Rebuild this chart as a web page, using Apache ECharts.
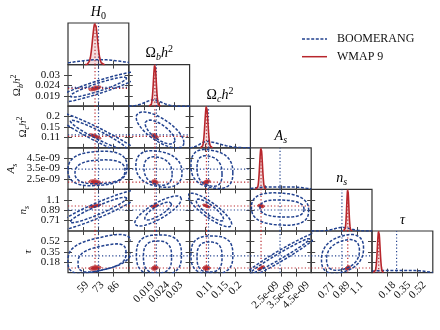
<!DOCTYPE html>
<html>
<head>
<meta charset="utf-8">
<script src="https://cdn.jsdelivr.net/npm/echarts@6/dist/echarts.min.js"></script>
<style>
  html, body { margin: 0; padding: 0; background: #fff; }
  #main { width: 440px; height: 330px; }
</style>
</head>
<body>
<div id="main"></div>
<script>
// parameters: H0, Omega_b h^2, Omega_c h^2, A_s (in units of 1e-9), n_s, tau
var axisMin = [46, 0.0134, 0.064, 1.5, 0.52, 0.01];
var axisMax = [100, 0.035, 0.244, 5.5, 1.26, 0.69];
var tickVals = [[59.5, 73, 86.5], [0.0188, 0.0242, 0.0296], [0.109, 0.154, 0.199],
                [2.5, 3.5, 4.5], [0.705, 0.89, 1.075], [0.18, 0.35, 0.52]];
var tickLabels = [['59', '73', '86'], ['0.019', '0.024', '0.03'], ['0.11', '0.15', '0.2'],
                  ['2.5e-09', '3.5e-09', '4.5e-09'], ['0.71', '0.89', '1.1'], ['0.18', '0.35', '0.52']];

// dotted reference lines
var boomMean = [73.1, 0.0232, 0.12, 3.45, 0.894, 0.285];
var wmapMean = [70.0, 0.02264, 0.1138, 2.2, 0.965, 0.085];
var wmapSig = [2.2, 0.0005, 0.0045, 0.09, 0.013, 0.015];

// BOOMERANG 1D marginals: peak position, left/right width, flatness, peak height
var b1dMean = [74, 0.0221, 0.113, 3.4, 0.9, 0.3];
var b1dSigL = [20, 0.003, 0.018, 1.6, 0.1, 0.3];
var b1dSigR = [20, 0.003, 0.04, 1.6, 0.1, 0.3];
var b1dPow = [2, 2, 2, 4, 2, 6];
var b1dPeak = [0.12, 0.15, 0.15, 0.06, 0.085, 0.05];

// 2D panels [row, col]
var panels = [[1, 0], [2, 0], [2, 1], [3, 0], [3, 1], [3, 2], [4, 0], [4, 1], [4, 2], [4, 3],
              [5, 0], [5, 1], [5, 2], [5, 3], [5, 4]];
// BOOMERANG contours: [cx, cy, half width, half height, tilt, squareness]
var boomOuter = [
  [73.1, 0.0233, 40.7, 0.0083, 0.91, 2],
  [73.1, 0.119, 40.7, 0.103, -0.95, 2],
  [0.0245, 0.141, 0.0085, 0.078, -0.7, 2],
  [72.2, 3.51, 26.2, 1.64, 0.1, 2.6],
  [0.0241, 3.46, 0.0082, 1.73, -0.2, 2.4],
  [0.130, 3.46, 0.062, 1.83, -0.2, 2.6],
  [73.1, 0.894, 40.8, 0.372, 0.924, 2],
  [0.0238, 0.876, 0.0083, 0.267, 0.8, 2],
  [0.124, 0.894, 0.065, 0.30, -0.85, 2],
  [3.45, 0.911, 1.88, 0.285, -0.1, 2.6],
  [74.4, 0.314, 28.4, 0.294, 0.4, 3],
  [0.0241, 0.298, 0.008, 0.327, 0, 2.8],
  [0.130, 0.298, 0.062, 0.31, 0, 2.8],
  [3.45, 0.281, 2.63, 0.394, 0.968, 2],
  [0.901, 0.314, 0.256, 0.31, 0.3, 2.4]
];
var boomInner = [
  [73.1, 0.0233, 25.2, 0.0052, 0.91, 2],
  [73.1, 0.119, 25.2, 0.064, -0.95, 2],
  [0.0245, 0.132, 0.0053, 0.052, -0.7, 2],
  [74.4, 3.19, 22.2, 1.14, 0.1, 2.6],
  [0.0238, 3.27, 0.005, 1.35, -0.2, 2.4],
  [0.123, 3.27, 0.037, 1.44, -0.2, 2.6],
  [73.1, 0.894, 25.3, 0.228, 0.936, 2],
  [0.0238, 0.876, 0.0048, 0.16, 0.8, 2],
  [0.124, 0.894, 0.041, 0.196, -0.85, 2],
  [3.58, 0.92, 1.45, 0.151, -0.1, 2.6],
  [76.2, 0.249, 21.3, 0.213, 0.4, 3],
  [0.0236, 0.265, 0.005, 0.262, 0, 2.8],
  [0.123, 0.265, 0.037, 0.245, 0, 2.8],
  [3.45, 0.281, 1.97, 0.289, 0.983, 2],
  [0.907, 0.298, 0.2, 0.245, 0.3, 2.4]
];
var wmapRho = [0.6, -0.8, -0.5, -0.3, -0.2, 0.5, 0.7, 0.6, -0.7, -0.3, 0.3, 0.2, 0, 0.8, 0.4];

var parTitles = ['{it|H}{sr|0}', '{rm|Ω}{sb|b}{it|h}{sp|2}', '{rm|Ω}{sb|c}{it|h}{sp|2}',
                 '{it|A}{sb|s}', '{it|n}{sb|s}', '{it|τ}'];
var nameGaps = [0, 47, 41, 53, 41, 36];
var legendNames = ['BOOMERANG', 'WMAP 9'];

var N = 6, L0 = 68, T0 = 23, CW = 60.8, CH = 41.6;
var BLUE = '#22428f', RED = '#b8262c', SERIF = 'Liberation Serif';
var DASH = [3, 1.6];
var LABEL_FONT = '11px "Liberation Serif"';

function richSet(size) {
  var s = Math.round(size * 0.7);
  return {
    rm: { fontSize: size, fontFamily: SERIF, color: '#111', lineHeight: size + 4 },
    it: { fontSize: size, fontFamily: SERIF, fontStyle: 'italic', color: '#111', lineHeight: size + 4 },
    sb: { fontSize: s, fontFamily: SERIF, fontStyle: 'italic', color: '#111', verticalAlign: 'bottom', lineHeight: s },
    sr: { fontSize: s, fontFamily: SERIF, color: '#111', verticalAlign: 'bottom', lineHeight: s },
    sp: { fontSize: s, fontFamily: SERIF, color: '#111', verticalAlign: 'top', lineHeight: s }
  };
}

function contour(c) {
  var pts = [], e = 2 / c[5], q = Math.sqrt(1 - c[4] * c[4]);
  for (var t = 0; t <= 180; t++) {
    var ang = t / 180 * 2 * Math.PI, co = Math.cos(ang), si = Math.sin(ang);
    var u = Math.sign(co) * Math.pow(Math.abs(co), e);
    var v = Math.sign(si) * Math.pow(Math.abs(si), e);
    pts.push([c[0] + c[2] * u, c[1] + c[3] * (c[4] * u + q * v)]);
  }
  return pts;
}

function parAxis(dir, p, g, name, gap) {
  var ax = {
    type: 'value', gridIndex: g, position: dir === 'x' ? 'bottom' : 'left', offset: -4,
    min: axisMin[p], max: axisMax[p],
    axisLine: { show: false }, splitLine: { show: false }, axisLabel: { show: false },
    axisTick: { show: true, length: 8, customValues: tickVals[p], lineStyle: { color: '#444', width: 1 } }
  };
  if (name) {
    ax.name = name; ax.nameLocation = 'middle'; ax.nameRotate = 90; ax.nameGap = gap;
    ax.nameTextStyle = { rich: richSet(11) };
  }
  return ax;
}

function densAxis(g, ticks) {
  return {
    type: 'value', gridIndex: g, position: 'left', offset: -4, min: 0, max: 1,
    axisLine: { show: false }, splitLine: { show: false }, axisLabel: { show: false },
    axisTick: { show: ticks, length: 8, customValues: [0.25, 0.5, 0.75], lineStyle: { color: '#444', width: 1 } }
  };
}

function dotted(g, pts, color) {
  return { type: 'line', xAxisIndex: g, yAxisIndex: g, data: pts, symbol: 'none', silent: true,
           lineStyle: { color: color, width: 1.2, type: [1.2, 2.2] } };
}

var grids = [], xAxes = [], yAxes = [], series = [], gridOf = {};
for (var i = 0; i < N; i++) {
  for (var j = 0; j <= i; j++) {
    var g = grids.length;
    gridOf[i + '_' + j] = g;
    grids.push({ left: L0 + j * CW, top: T0 + i * CH, width: CW, height: CH, show: true,
                 borderColor: '#333', borderWidth: 1.2, backgroundColor: 'transparent' });
    xAxes.push(parAxis('x', j, g));
    if (i === j) yAxes.push(densAxis(g, i > 0));
    else yAxes.push(parAxis('y', i, g, j === 0 ? parTitles[i] : null, nameGaps[i]));
  }
}

// diagonal 1D marginals
for (var p = 0; p < N; p++) {
  var g = gridOf[p + '_' + p];
  series.push(dotted(g, [[boomMean[p], 0], [boomMean[p], 1]], BLUE));
  series.push(dotted(g, [[wmapMean[p], 0], [wmapMean[p], 1]], RED));
  var bd = [], rd = [];
  for (var s = 0; s <= 240; s++) {
    var x = axisMin[p] + (axisMax[p] - axisMin[p]) * s / 240;
    var d = x - b1dMean[p], sg = d < 0 ? b1dSigL[p] : b1dSigR[p];
    bd.push([x, b1dPeak[p] * Math.exp(-0.5 * Math.pow(Math.abs(d / sg), b1dPow[p]))]);
  }
  for (var s2 = -40; s2 <= 40; s2++) {
    var z = s2 / 10;
    rd.push([wmapMean[p] + z * wmapSig[p], Math.exp(-0.5 * z * z)]);
  }
  series.push({ type: 'line', xAxisIndex: g, yAxisIndex: g, data: bd, symbol: 'none',
                silent: true, lineStyle: { color: BLUE, width: 1.5, type: DASH } });
  series.push({ type: 'line', xAxisIndex: g, yAxisIndex: g, data: rd, symbol: 'none',
                silent: true, lineStyle: { color: RED, width: 1.6 },
                areaStyle: { color: 'rgba(184,38,44,0.22)' } });
}

// 2D panels
panels.forEach(function (pp, k) {
  var r = pp[0], c = pp[1], g = gridOf[r + '_' + c];
  series.push(dotted(g, [[boomMean[c], axisMin[r]], [boomMean[c], axisMax[r]]], BLUE));
  series.push(dotted(g, [[axisMin[c], boomMean[r]], [axisMax[c], boomMean[r]]], BLUE));
  series.push(dotted(g, [[wmapMean[c], axisMin[r]], [wmapMean[c], axisMax[r]]], RED));
  series.push(dotted(g, [[axisMin[c], wmapMean[r]], [axisMax[c], wmapMean[r]]], RED));
  [boomOuter[k], boomInner[k]].forEach(function (ct) {
    series.push({ type: 'line', xAxisIndex: g, yAxisIndex: g, data: contour(ct), symbol: 'none',
                  silent: true, lineStyle: { color: BLUE, width: 1.5, type: DASH } });
  });
  var wOuter = contour([wmapMean[c], wmapMean[r], 2.45 * wmapSig[c], 2.45 * wmapSig[r], wmapRho[k], 2]);
  var wInner = contour([wmapMean[c], wmapMean[r], 1.52 * wmapSig[c], 1.52 * wmapSig[r], wmapRho[k], 2]);
  series.push({
    type: 'custom', xAxisIndex: g, yAxisIndex: g, silent: true,
    data: [[wmapMean[c], wmapMean[r]]],
    renderItem: function (params, api) {
      var po = wOuter.map(function (q) { return api.coord(q); });
      var pi = wInner.map(function (q) { return api.coord(q); });
      return { type: 'group', children: [
        { type: 'polygon', shape: { points: po }, style: { fill: 'rgba(205,70,70,0.6)', stroke: RED, lineWidth: 1 } },
        { type: 'polygon', shape: { points: pi }, style: { fill: 'rgba(180,30,40,0.85)', stroke: RED, lineWidth: 1 } }
      ] };
    }
  });
});

var graphics = [];
for (var t = 0; t < N; t++) {
  graphics.push({ type: 'text', x: L0 + t * CW + CW / 2, y: T0 + t * CH - 11, silent: true,
                  style: { text: parTitles[t], rich: richSet(14), align: 'center', verticalAlign: 'middle' } });
}
// legend
[[BLUE, DASH], [RED, null]].forEach(function (st, k) {
  var y = 39 + k * 17.7;
  graphics.push({ type: 'line', silent: true, shape: { x1: 302, y1: y, x2: 327, y2: y },
                  style: { stroke: st[0], lineWidth: 1.5, lineDash: st[1] } });
  graphics.push({ type: 'text', x: 337, y: y, silent: true,
                  style: { text: legendNames[k], font: '12px "Liberation Serif"', fill: '#111',
                           align: 'left', verticalAlign: 'middle' } });
});

var chart = echarts.init(document.getElementById('main'), null, { renderer: 'canvas' });
chart.setOption({
  animation: false,
  backgroundColor: '#fff',
  grid: grids,
  xAxis: xAxes,
  yAxis: yAxes,
  series: series,
  graphic: graphics
});

// tick labels placed at the axes' own pixel positions (rotated like the original)
var ctx = document.createElement('canvas').getContext('2d');
ctx.font = LABEL_FONT;
var bottomY = T0 + N * CH;
for (var c = 0; c < N; c++) {
  var gb = gridOf[(N - 1) + '_' + c];
  for (var k = 0; k < 3; k++) {
    var px = chart.convertToPixel({ xAxisIndex: gb }, tickVals[c][k]);
    var w = ctx.measureText(tickLabels[c][k]).width;
    var cy = bottomY + 8 + (w + 8) / (2 * Math.SQRT2);
    graphics.push({ type: 'text', x: px, y: cy, rotation: Math.PI / 4, silent: true,
                    style: { text: tickLabels[c][k], font: LABEL_FONT, fill: '#111',
                             align: 'center', verticalAlign: 'middle' } });
  }
}
for (var r = 1; r < N; r++) {
  var gl = gridOf[r + '_0'];
  for (var k2 = 0; k2 < 3; k2++) {
    var py = chart.convertToPixel({ yAxisIndex: gl }, tickVals[r][k2]);
    graphics.push({ type: 'text', x: L0 - 8, y: py, silent: true,
                    style: { text: tickLabels[r][k2], font: LABEL_FONT, fill: '#111',
                             align: 'right', verticalAlign: 'middle' } });
  }
}
chart.setOption({ graphic: graphics });
</script>
</body>
</html>
